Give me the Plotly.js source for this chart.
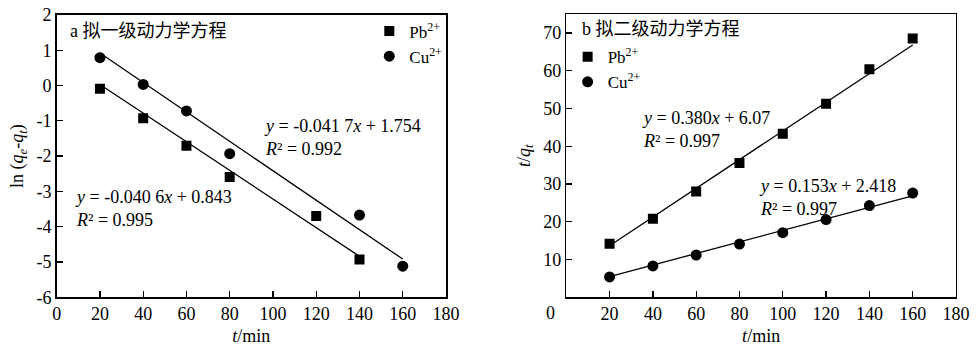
<!DOCTYPE html>
<html>
<head>
<meta charset="utf-8">
<script src="https://cdn.plot.ly/plotly-3.0.1.min.js"></script>
<style>html,body{margin:0;padding:0;background:#fff;}#chart{width:977px;height:356px;}</style>
</head>
<body>
<div id="chart"></div>
<script>
// Panel a: pseudo-first-order
const timeA_Pb = [20, 40, 60, 80, 120, 140];
const lnA_Pb   = [-0.09, -0.93, -1.71, -2.59, -3.70, -4.93];
const timeA_Cu = [20, 40, 60, 80, 140, 160];
const lnA_Cu   = [0.79, 0.03, -0.72, -1.93, -3.67, -5.12];
const fitA_Pb = {slope: -0.0406, intercept: 0.843, from: 20, to: 140};
const fitA_Cu = {slope: -0.0417, intercept: 1.754, from: 20, to: 160};

// Panel b: pseudo-second-order
const timeB    = [20, 40, 60, 80, 100, 120, 140, 160];
const tqB_Pb   = [14.2, 20.8, 28.0, 35.6, 43.3, 51.3, 60.4, 68.6];
const tqB_Cu   = [5.4, 8.3, 11.2, 14.1, 17.1, 20.6, 24.3, 27.6];
const fitB_Pb = {slope: 0.380, intercept: 6.07, from: 20, to: 160};
const fitB_Cu = {slope: 0.153, intercept: 2.418, from: 20, to: 160};

const xTicks = [0, 20, 40, 60, 80, 100, 120, 140, 160, 180];
const xTicksB = [20, 40, 60, 80, 100, 120, 140, 160, 180];
const yTicksA = [2, 1, 0, -1, -2, -3, -4, -5, -6];
const yTickTextA = ['2', '1', '0', '-1', '-2', '-3', '-4', '-5', '-6'];
const yTicksB = [10, 20, 30, 40, 50, 60, 70];

const serif = 'Liberation Serif, "Times New Roman", Times, serif';
const cjk = 'Liberation Serif, "Noto Sans CJK SC", serif';

function fitLine(f, xa, ya) {
  return {x: [f.from, f.to], y: [f.slope*f.from + f.intercept, f.slope*f.to + f.intercept],
    mode: 'lines', line: {color: '#000', width: 1.3}, showlegend: false, hoverinfo: 'skip', xaxis: xa, yaxis: ya};
}

const sq = {symbol: 'square', size: 10, color: '#000'};
const ci = {symbol: 'circle', size: 11, color: '#000'};

const traces = [
  fitLine(fitA_Pb, 'x', 'y'),
  fitLine(fitA_Cu, 'x', 'y'),
  fitLine(fitB_Pb, 'x2', 'y2'),
  fitLine(fitB_Cu, 'x2', 'y2'),
  {x: timeA_Pb, y: lnA_Pb, mode: 'markers', name: 'Pb<sup>2+</sup>', marker: sq, xaxis: 'x', yaxis: 'y', legend: 'legend'},
  {x: timeA_Cu, y: lnA_Cu, mode: 'markers', name: 'Cu<sup>2+</sup>', marker: ci, xaxis: 'x', yaxis: 'y', legend: 'legend'},
  {x: timeB, y: tqB_Pb, mode: 'markers', name: 'Pb<sup>2+</sup>', marker: sq, xaxis: 'x2', yaxis: 'y2', legend: 'legend2'},
  {x: timeB, y: tqB_Cu, mode: 'markers', name: 'Cu<sup>2+</sup>', marker: ci, xaxis: 'x2', yaxis: 'y2', legend: 'legend2'}
];

const axisCommon = {
  showline: true, mirror: true, linecolor: '#000', linewidth: 1.5,
  ticks: 'inside', ticklen: 6, tickwidth: 1.3, tickcolor: '#000',
  showgrid: false, zeroline: false,
  tickfont: {family: serif, size: 18, color: '#000'}
};

const layout = {
  width: 977, height: 356,
  margin: {l: 0, r: 0, t: 0, b: 0},
  paper_bgcolor: '#fff', plot_bgcolor: '#fff',
  font: {family: serif, color: '#000'},
  xaxis: Object.assign({}, axisCommon, {domain: [0.058, 0.4565], range: [0, 180], tickmode: 'array', tickvals: xTicks,
    title: {text: '<i>t</i>/min', font: {family: serif, size: 18, color: '#000'}, standoff: 6}}),
  yaxis: Object.assign({}, axisCommon, {domain: [0.165, 0.958], range: [-6, 2], tickmode: 'array', tickvals: yTicksA, ticktext: yTickTextA,
    title: {text: 'ln (<i>q</i><sub><i>e</i></sub>-<i>q</i><sub><i>t</i></sub>)', font: {family: serif, size: 18, color: '#000'}, standoff: 8}}),
  xaxis2: Object.assign({}, axisCommon, {domain: [0.5796, 0.9785], range: [0, 180], tickmode: 'array', tickvals: xTicksB, anchor: 'y2',
    title: {text: '<i>t</i>/min', font: {family: serif, size: 18, color: '#000'}, standoff: 6}}),
  yaxis2: Object.assign({}, axisCommon, {domain: [0.165, 0.96], range: [0, 75], tickmode: 'array', tickvals: yTicksB, anchor: 'x2',
    title: {text: '<i>t</i>/<i>q</i><sub><i>t</i></sub>', font: {family: serif, size: 18, color: '#000'}, standoff: 8}}),
  legend: {x: 0.378, y: 0.962, xanchor: 'left', yanchor: 'top', bgcolor: 'rgba(0,0,0,0)',
    font: {family: serif, size: 17, color: '#000'}, itemwidth: 30, tracegroupgap: 0},
  legend2: {x: 0.581, y: 0.89, xanchor: 'left', yanchor: 'top', bgcolor: 'rgba(0,0,0,0)',
    font: {family: serif, size: 17, color: '#000'}, itemwidth: 30, tracegroupgap: 0},
  annotations: [
    {xref: 'x domain', yref: 'y domain', x: 0.03, y: 0.985, xanchor: 'left', yanchor: 'top', showarrow: false,
     text: 'a 拟一级动力学方程', font: {family: cjk, size: 18, color: '#000'}},
    {xref: 'x2 domain', yref: 'y2 domain', x: 0.035, y: 0.99, xanchor: 'left', yanchor: 'top', showarrow: false,
     text: 'b 拟二级动力学方程', font: {family: cjk, size: 18, color: '#000'}},
    {xref: 'x', yref: 'y', x: 95, y: -1.48, xanchor: 'left', yanchor: 'middle', align: 'left', showarrow: false,
     text: '<i>y</i> = -0.041 7<i>x</i> + 1.754<br><i>R</i>² = 0.992', font: {family: serif, size: 18, color: '#000'}},
    {xref: 'x', yref: 'y', x: 7.7, y: -3.48, xanchor: 'left', yanchor: 'middle', align: 'left', showarrow: false,
     text: '<i>y</i> = -0.040 6<i>x</i> + 0.843<br><i>R</i>² = 0.995', font: {family: serif, size: 18, color: '#000'}},
    {xref: 'x2', yref: 'y2', x: 34.2, y: 44.4, xanchor: 'left', yanchor: 'middle', align: 'left', showarrow: false,
     text: '<i>y</i> = 0.380<i>x</i> + 6.07<br><i>R</i>² = 0.997', font: {family: serif, size: 18, color: '#000'}},
    {xref: 'x2', yref: 'y2', x: 88.1, y: 26.5, xanchor: 'left', yanchor: 'middle', align: 'left', showarrow: false,
     text: '<i>y</i> = 0.153<i>x</i> + 2.418<br><i>R</i>² = 0.997', font: {family: serif, size: 18, color: '#000'}},
    {xref: 'x2 domain', yref: 'y2 domain', x: -0.04, y: 0, xanchor: 'center', yanchor: 'top', yshift: -4, showarrow: false,
     text: '0', font: {family: serif, size: 18, color: '#000'}}
  ]
};

Plotly.newPlot('chart', traces, layout, {displayModeBar: false, staticPlot: true});
</script>
</body>
</html>
